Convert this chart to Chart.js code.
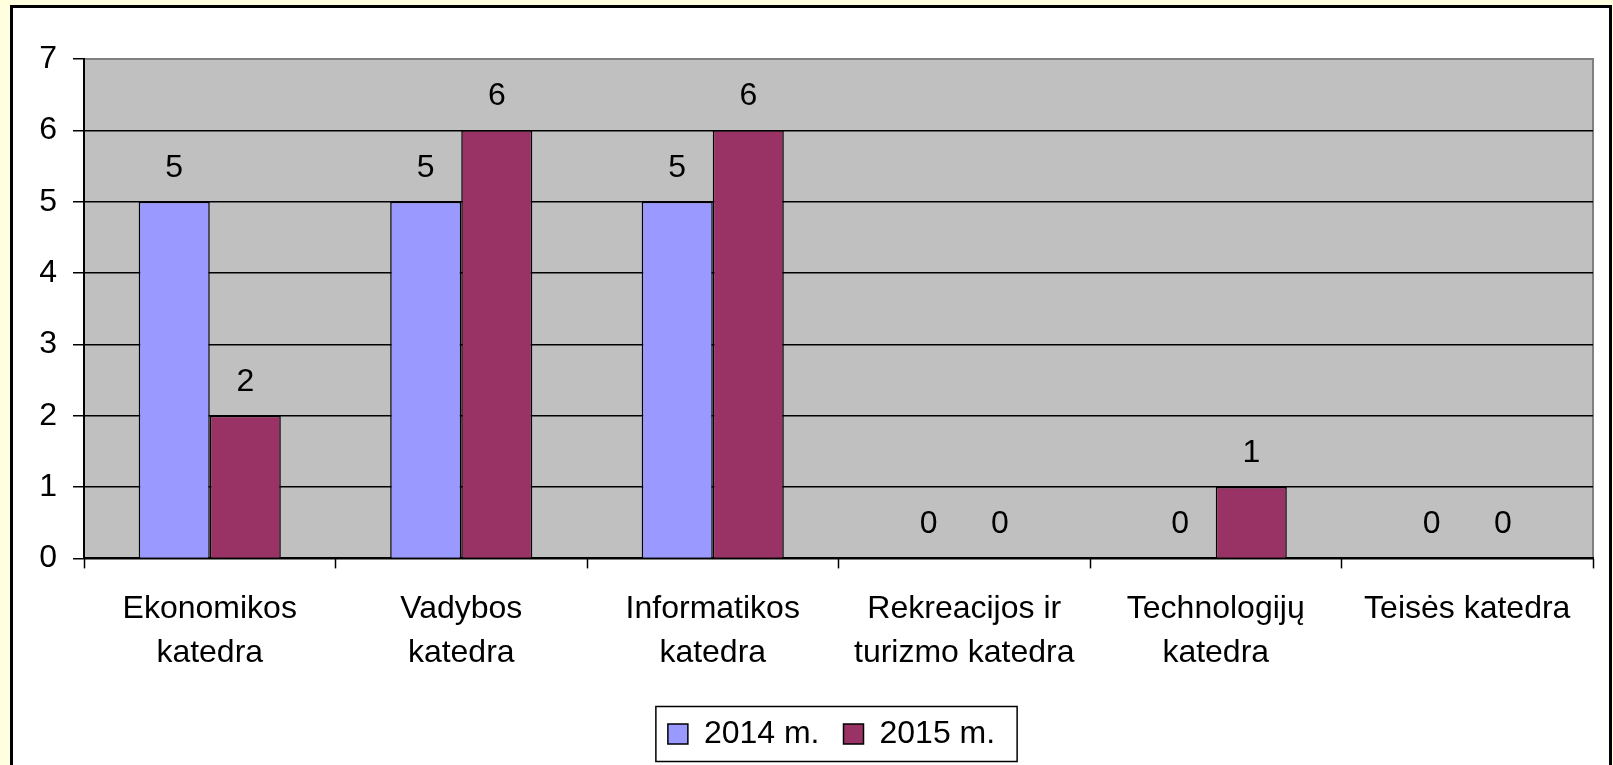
<!DOCTYPE html>
<html>
<head>
    <meta charset="utf-8" />
    <title>Katedros</title>
    <script src="https://cdn.jsdelivr.net/npm/chart.js@4.4.1/dist/chart.umd.min.js"></script>
    <style>
      body { margin: 0; background: #FFFFE0; }
      #wrap { width: 1613px; height: 765px; }
    </style>
</head>
<body>
  <div id='wrap'>
    <canvas id='katedrosChart' width='1613' height='765'></canvas>
  </div>
  <script>
    const categories = [
      ['Ekonomikos', 'katedra'],
      ['Vadybos', 'katedra'],
      ['Informatikos', 'katedra'],
      ['Rekreacijos ir', 'turizmo katedra'],
      ['Technologijų', 'katedra'],
      'Teisės katedra'
    ];
    const values2014 = [5, 5, 5, 0, 0, 0];
    const values2015 = [2, 6, 6, 0, 1, 0];
    const yTicks = [0, 1, 2, 3, 4, 5, 6, 7];

    const FONT = "'Liberation Sans', Arial, sans-serif";

    // background, white frame and grey plot area
    const frame = {
      id: 'frame',
      afterUpdate(chart) {
        // nudge the legend a little to the left, like the original
        const lg = chart.legend;
        lg.left -= 7;
        lg.right -= 7;
        (lg.legendHitBoxes || []).forEach(h => { h.left -= 7; });
      },
      beforeDraw(chart) {
        const ctx = chart.ctx;
        const a = chart.chartArea;
        ctx.save();
        ctx.fillStyle = '#FFFFE0';
        ctx.fillRect(0, 0, chart.width, chart.height);
        ctx.fillStyle = '#FFFFFF';
        ctx.fillRect(10, 5, 1602, 800);
        ctx.strokeStyle = '#000000';
        ctx.lineWidth = 3;
        ctx.strokeRect(11.5, 6.5, 1599, 800);
        ctx.fillStyle = '#C0C0C0';
        ctx.fillRect(a.left, a.top, a.right - a.left, a.bottom - a.top);
        ctx.strokeStyle = '#808080';
        ctx.lineWidth = 2;
        ctx.beginPath();
        ctx.moveTo(a.left, a.top);
        ctx.lineTo(a.right, a.top);
        ctx.lineTo(a.right, a.bottom);
        ctx.stroke();
        ctx.restore();
      },
      afterDraw(chart) {
        // box round the legend
        const hb = chart.legend.legendHitBoxes;
        if (!hb || !hb.length) return;
        const last = hb[hb.length - 1];
        const cy = hb[0].top + hb[0].height / 2;
        const ctx = chart.ctx;
        ctx.save();
        ctx.strokeStyle = '#000000';
        ctx.lineWidth = 1.5;
        ctx.strokeRect(hb[0].left - 12, cy - 27.5, last.left + last.width + 22 - (hb[0].left - 12), 55);
        ctx.restore();
      }
    };

    // value labels above the bars
    const valueLabels = {
      id: 'valueLabels',
      afterDatasetsDraw(chart) {
        const ctx = chart.ctx;
        ctx.save();
        ctx.font = '32px ' + FONT;
        ctx.fillStyle = '#000000';
        ctx.textAlign = 'center';
        ctx.textBaseline = 'middle';
        chart.data.datasets.forEach((ds, i) => {
          chart.getDatasetMeta(i).data.forEach((bar, j) => {
            ctx.fillText(String(ds.data[j]), bar.x, bar.y - 34);
          });
        });
        ctx.restore();
      }
    };

    new Chart(document.getElementById('katedrosChart'), {
      type: 'bar',
      data: {
        labels: categories,
        datasets: [{
          label: '2014 m.',
          data: values2014,
          backgroundColor: '#9999FF',
          borderColor: '#000000',
          borderWidth: 1.5,
          categoryPercentage: 0.565,
          barPercentage: 1
        }, {
          label: '2015 m.',
          data: values2015,
          backgroundColor: '#993366',
          borderColor: '#000000',
          borderWidth: 1.5,
          categoryPercentage: 0.565,
          barPercentage: 1
        }]
      },
      options: {
        responsive: false,
        animation: false,
        layout: { padding: { left: 0, right: 20, top: 59, bottom: 5 } },
        plugins: {
          tooltip: { enabled: false },
          legend: {
            position: 'bottom',
            fullSize: false,
            labels: {
              color: '#000000',
              font: { family: FONT, size: 32 },
              boxWidth: 20,
              boxHeight: 20,
              padding: 24
            }
          }
        },
        scales: {
          x: {
            offset: true,
            grid: {
              offset: true,
              drawOnChartArea: false,
              drawTicks: true,
              tickLength: 10,
              tickWidth: 1.5,
              tickColor: '#000000'
            },
            border: { color: '#000000', width: 2 },
            ticks: {
              color: '#000000',
              font: { family: FONT, size: 32, lineHeight: 1.4 },
              padding: 18,
              maxRotation: 0,
              autoSkip: false
            }
          },
          y: {
            min: 0,
            max: 7,
            afterFit(scale) { scale.width = 84; },
            afterBuildTicks(scale) { scale.ticks = yTicks.map(v => ({ value: v })); },
            grid: {
              color: ctx => ctx.tick && ctx.tick.value === 7 ? '#808080' : '#000000',
              lineWidth: 1.5,
              tickLength: 11,
              tickColor: '#000000'
            },
            border: { color: '#000000', width: 2 },
            ticks: {
              color: '#000000',
              font: { family: FONT, size: 32 },
              padding: 16
            }
          }
        }
      },
      plugins: [frame, valueLabels]
    });
  </script>
</body>
</html>
